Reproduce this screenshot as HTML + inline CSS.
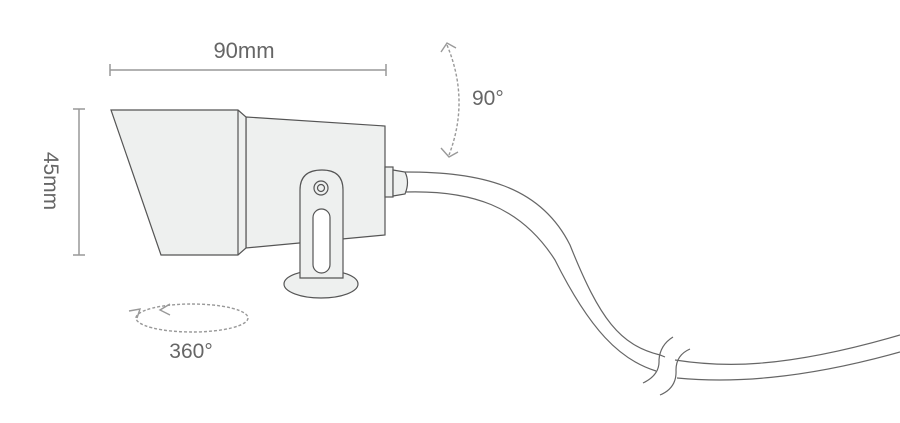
<!DOCTYPE html>
<html><head><style>html,body{margin:0;padding:0;background:#fff;width:900px;height:423px;overflow:hidden}</style></head>
<body>
<svg width="900" height="423" viewBox="0 0 900 423" xmlns="http://www.w3.org/2000/svg" font-family="Liberation Sans, sans-serif">
<g stroke="#999" stroke-width="1.5" fill="none">
<line x1="110" y1="70" x2="386" y2="70"/><line x1="110" y1="64" x2="110" y2="76"/><line x1="386" y1="64" x2="386" y2="76"/>
<line x1="79" y1="109" x2="79" y2="255"/><line x1="73" y1="109" x2="85" y2="109"/><line x1="73" y1="255" x2="85" y2="255"/>
</g>
<text x="244" y="58" font-size="22" fill="#666" text-anchor="middle">90mm</text>
<text transform="translate(44,181) rotate(90)" font-size="21" fill="#666" text-anchor="middle">45mm</text>
<text x="472" y="105" font-size="21" fill="#666">90°</text>
<text x="191" y="358" font-size="21" fill="#666" text-anchor="middle">360°</text>
<g stroke="#999" stroke-width="1.4" fill="none" stroke-dasharray="3,2">
<path d="M447 45 Q470 100 449 155"/>
<ellipse cx="192" cy="318" rx="56" ry="14"/>
</g>
<g stroke="#999" stroke-width="1.4" fill="none">
<path d="M441 52 L447 43 L456 48"/><path d="M441 148 L449 157 L458 152"/>
<path d="M170 304 L160 310 L170 315"/><path d="M129 311 L140 309 L137 318"/>
</g>
<g stroke="#555" stroke-width="1.2" fill="#eef0ef">
<path d="M246 117 L385 126 L385 235 L246 248 Z"/>
<path d="M111 110 L238 110 L246 117 L246 248 L238 255 L161 255 Z"/>
<line x1="238" y1="110" x2="238" y2="255"/>
<rect x="385" y="167" width="8" height="30"/>
<path d="M393 170 L405 172 Q410 182 405 194 L393 196 Z"/>
<ellipse cx="321" cy="284" rx="37" ry="14"/>
<path d="M300 278 L300 190 Q300 170 322 170 Q343 170 343 190 L343 278 Z"/>
<rect x="313" y="209" width="17" height="64" rx="8.5" fill="#fff"/>
<circle cx="321" cy="188" r="7"/><circle cx="321" cy="188" r="3.5"/>
</g>
<g stroke="#666" stroke-width="1.2" fill="none">
<path d="M405 172 C480 172 540 185 570 245 C600 320 620 345 660 355 L665 357 M675 360 C720 367 780 370 900 335"/>
<path d="M405 192 C470 190 520 205 555 260 C590 330 620 360 656 371 M677 378 C730 383 800 380 900 352"/>
<path d="M673 337 Q660 345 659 360 Q660 375 643 383"/><path d="M690 349 Q676 355 676 370 Q677 388 660 395"/>
</g>
</svg>
</body></html>
